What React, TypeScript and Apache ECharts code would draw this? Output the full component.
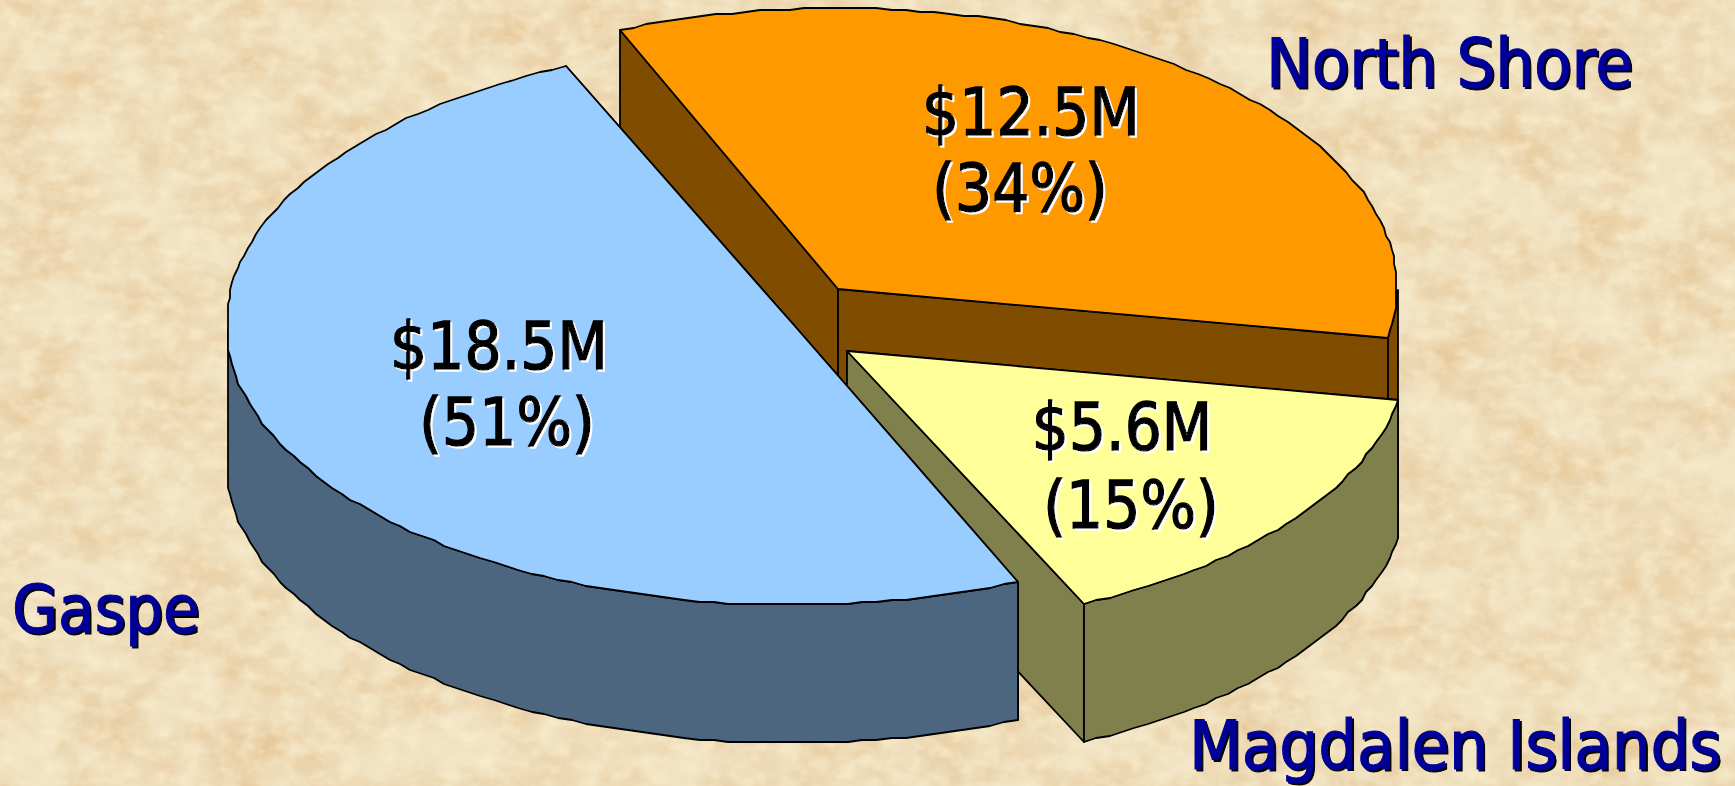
import React, { useEffect, useRef } from "react";
import * as echarts from "echarts";

const categories = ["North Shore", "Magdalen Islands", "Gaspe"];
const values = [12.5, 5.6, 18.5];
const valueLabels = ["$12.5M", "$5.6M", "$18.5M"];
const percentLabels = ["(34%)", "(15%)", "(51%)"];
const topColors = ["#FF9900", "#FFFF99", "#99CCFF"];
const wallColors = ["#804D00", "#80804D", "#4D6680"];

const START_DEG = -23;
const radiiX = [559, 560, 566];
const radiiY = [281, 279, 281];
const startTrim = [0, 0, 1.5];
const endTrim = [0, 0, -0.6];
const DEPTH = 138;
const centers = [[838, 289], [847, 351], [793, 324]];
const valuePos = [[1031, 112], [1122, 427], [499, 346]];
const percentPos = [[1020, 188], [1131, 505], [507, 422]];
const namePos = [[1266, 63], [1189, 745], [12, 609]];
const nameSizes = [68, 68, 66];
const FONT = '"DejaVu Sans Condensed", "DejaVu Sans", sans-serif';

const total = values.reduce((a, b) => a + b, 0);
const snap = (v: number) => Math.round(v / 2) * 2;

function arcPoint(i: number, deg: number) {
  const [cx, cy] = centers[i];
  const a = (deg * Math.PI) / 180;
  const s = Math.sin(a);
  const c = Math.cos(a);
  // the reference's left flank runs straight down for a stretch
  const flat = s < 0 ? (c < 0 ? 6 : -3) * Math.pow(Math.abs(s), 28) : 0;
  return [snap(cx + radiiX[i] * s), snap(cy - radiiY[i] * c + flat)];
}

const edge = { stroke: "#000", lineWidth: 1.8, lineJoin: "round" };

function renderItem(params: any, api: any) {
  const i = params.dataIndex;
  let before = 0;
  for (let k = 0; k < i; k++) before += values[k];
  const a0 = START_DEG + (before / total) * 360 + startTrim[i];
  const a1 = START_DEG + ((before + api.value(0)) / total) * 360 + endTrim[i];
  const [cx, cy] = centers[i];
  const n = Math.ceil((a1 - a0) / 1.5);
  const angles = Array.from({ length: n + 1 }, (_, k) => a0 + ((a1 - a0) * k) / n);
  const arc = angles.map((d) => arcPoint(i, d));
  const down = (p: number[]) => [p[0], p[1] + DEPTH];
  const wall = wallColors[i];
  const children: any[] = [];
  const first = arc[0];
  const last = arc[arc.length - 1];
  children.push({
    type: "polygon",
    shape: { points: [first, [cx, cy], [cx, cy + DEPTH], down(first)] },
    style: { fill: wall, ...edge },
  });
  children.push({
    type: "polygon",
    shape: { points: [[cx, cy], last, down(last), [cx, cy + DEPTH]] },
    style: { fill: wall, ...edge },
  });
  const lo = Math.max(a0, 90);
  const hi = Math.min(a1, 270);
  if (hi > lo) {
    const front = [
      arcPoint(i, lo),
      ...angles.filter((d) => d > lo && d < hi).map((d) => arcPoint(i, d)),
      arcPoint(i, hi),
    ];
    children.push({
      type: "polygon",
      shape: { points: [...front, ...front.map(down).reverse()] },
      style: { fill: wall, ...edge },
    });
  }
  children.push({
    type: "polygon",
    shape: { points: [[cx, cy], ...arc] },
    style: { fill: topColors[i], ...edge },
  });
  const dark = (text: string, p: number[]) => ({
    type: "text",
    x: p[0],
    y: p[1],
    style: {
      text,
      fill: "#000",
      stroke: "#000",
      lineWidth: 1.4,
      font: `65px ${FONT}`,
      align: "center",
      verticalAlign: "middle",
      textShadowColor: "#fff",
      textShadowOffsetX: 2,
      textShadowOffsetY: 2,
      textShadowBlur: 0.1,
    },
  });
  children.push(dark(valueLabels[i], valuePos[i]));
  children.push(dark(percentLabels[i], percentPos[i]));
  children.push({
    type: "text",
    x: namePos[i][0],
    y: namePos[i][1],
    z2: 50,
    style: {
      text: categories[i],
      fill: "#000099",
      stroke: "#000099",
      lineWidth: 1,
      font: `${nameSizes[i]}px ${FONT}`,
      align: "left",
      verticalAlign: "middle",
      textShadowColor: "#000",
      textShadowOffsetX: 2,
      textShadowOffsetY: 2,
      textShadowBlur: 0.1,
    },
  });
  return { type: "group", children };
}

const parchment =
  "data:image/svg+xml," +
  encodeURIComponent(
    `<svg xmlns='http://www.w3.org/2000/svg' width='1735' height='786'>
<filter id='n' x='0' y='0' width='100%' height='100%' color-interpolation-filters='sRGB'>
<feTurbulence type='fractalNoise' baseFrequency='.014 .018' numOctaves='4' seed='7'/>
<feColorMatrix values='0 0 0 0 .89  0 0 0 0 .75  0 0 0 0 .55  1.3 0 0 0 -.40'/>
</filter>
<filter id='m' x='0' y='0' width='100%' height='100%' color-interpolation-filters='sRGB'>
<feTurbulence type='fractalNoise' baseFrequency='.05 .07' numOctaves='3' seed='3'/>
<feColorMatrix values='0 0 0 0 .98  0 0 0 0 .94  0 0 0 0 .82  1.4 0 0 0 -.5'/>
</filter>
<rect width='1735' height='786' fill='#F0E2C2'/>
<rect width='1735' height='786' filter='url(#n)'/>
<rect width='1735' height='786' filter='url(#m)'/>
</svg>`
  );

export default function App() {
  const ref = useRef<HTMLDivElement>(null);
  useEffect(() => {
    document.body.style.margin = "0";
    const chart = echarts.init(ref.current!, undefined, { renderer: "svg" });
    chart.setOption({
      animation: false,
      backgroundColor: "transparent",
      series: [
        {
          type: "custom",
          coordinateSystem: "none",
          clip: false,
          renderItem,
          data: values.map((v, i) => ({ name: categories[i], value: [v] })),
        },
      ],
    });
    return () => chart.dispose();
  }, []);
  return (
    <div
      ref={ref}
      style={{
        width: 1735,
        height: 786,
        backgroundColor: "#F0E2C0",
        backgroundImage: `url("${parchment}")`,
      }}
    />
  );
}
